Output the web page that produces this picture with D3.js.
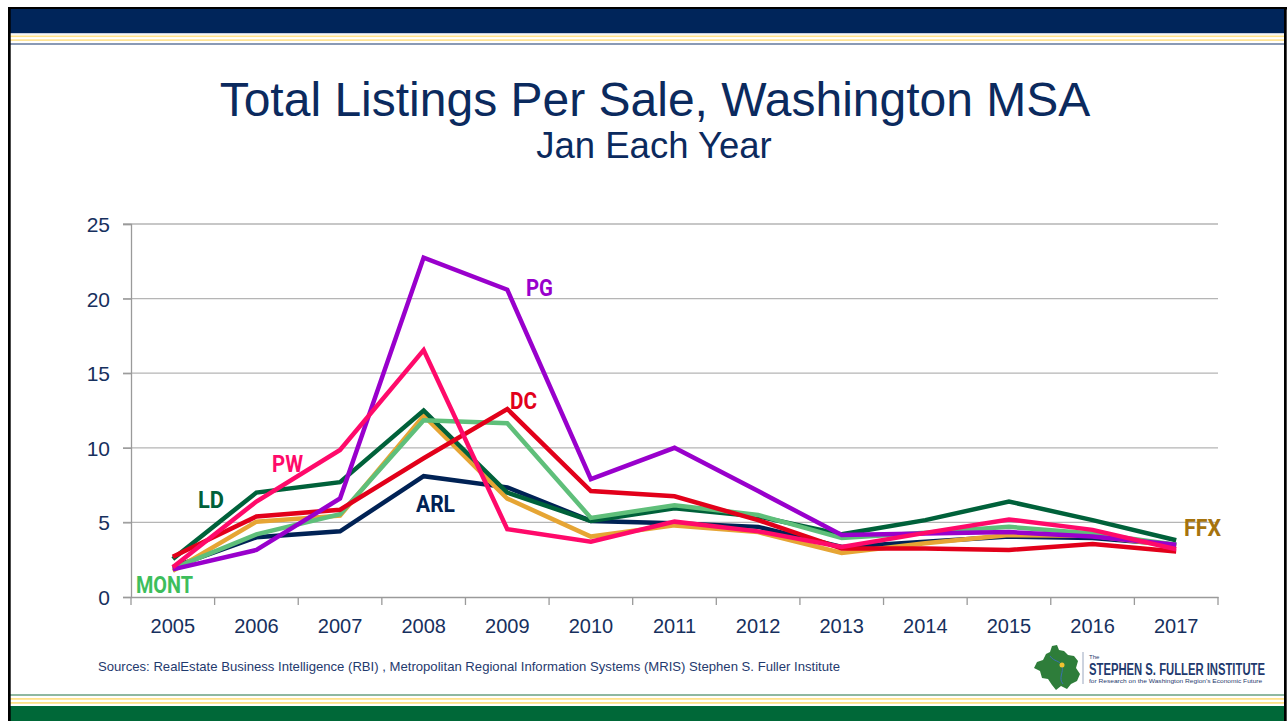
<!DOCTYPE html>
<html>
<head>
<meta charset="utf-8">
<script src="https://cdn.jsdelivr.net/npm/d3@7/dist/d3.min.js"></script>
<style>
html,body{margin:0;padding:0;background:#fff;}
svg{display:block;}
</style>
</head>
<body>
<svg id="chart" width="1288" height="721"></svg>
<script>
// ---- Data ----
const years = ["2005","2006","2007","2008","2009","2010","2011","2012","2013","2014","2015","2016","2017"];
const yTicks = [0, 5, 10, 15, 20, 25];
const ARL  = [2.0, 4.0, 4.4, 8.1, 7.35, 5.1, 4.95, 4.7, 3.35, 3.7, 4.05, 3.95, 3.5];
const FFX  = [1.75, 5.05, 5.45, 12.15, 6.6, 4.05, 4.8, 4.35, 2.95, 3.6, 4.15, 4.1, 3.4];
const LD   = [2.55, 7.0, 7.7, 12.5, 7.0, 5.1, 5.95, 5.4, 4.2, 5.15, 6.4, 5.15, 3.8];
const MONT = [1.9, 4.2, 5.55, 11.85, 11.65, 5.3, 6.15, 5.5, 3.95, 4.3, 4.7, 4.25, 3.5];
const DC   = [2.7, 5.4, 5.85, 9.3, 12.6, 7.1, 6.75, 5.15, 3.25, 3.25, 3.15, 3.55, 3.05];
const PG   = [1.85, 3.15, 6.6, 22.75, 20.6, 7.9, 10.0, 7.1, 4.15, 4.25, 4.35, 4.05, 3.5];
const PW   = [2.0, 6.4, 9.85, 16.55, 4.55, 3.7, 5.05, 4.4, 3.35, 4.3, 5.2, 4.5, 3.2];
const seriesNames = ["ARL","FFX","LD","MONT","DC","PG","PW"];
const title = "Total Listings Per Sale, Washington MSA";
const subtitle = "Jan Each Year";
const source = "Sources: RealEstate Business Intelligence (RBI) , Metropolitan Regional Information Systems (MRIS) Stephen S. Fuller Institute";

const seriesData = {ARL, FFX, LD, MONT, DC, PG, PW};
const lineColor = {ARL:"#002255", FFX:"#E6A534", LD:"#00613A", MONT:"#5FBF7A", DC:"#E2001A", PG:"#9900CC", PW:"#FF0A6A"};
const labelColor = {ARL:"#002255", FFX:"#A6730D", LD:"#00613A", MONT:"#3DBE5C", DC:"#E2001A", PG:"#9900CC", PW:"#FF0A6A"};
const labelPos = {
  PG:  {x:526, y:296, w:27},
  DC:  {x:510, y:409, w:27},
  PW:  {x:272, y:472, w:31},
  LD:  {x:198, y:508, w:26},
  ARL: {x:416, y:512, w:39},
  MONT:{x:136, y:593, w:57},
  FFX: {x:1184, y:536, w:37}
};

const svg = d3.select("#chart");
const W = 1288, H = 721;

// ---- Frame / decoration ----
svg.append("rect").attr("x",0).attr("y",0).attr("width",W).attr("height",H).attr("fill","#fff");
svg.append("rect").attr("x",8).attr("y",7).attr("width",1279).attr("height",2.5).attr("fill","#000");
svg.append("rect").attr("x",10).attr("y",9).attr("width",1275).attr("height",24).attr("fill","#00255A");
svg.append("rect").attr("x",10).attr("y",33).attr("width",1275).attr("height",1.2).attr("fill","#c8cfdc");
svg.append("rect").attr("x",10).attr("y",35.5).attr("width",1275).attr("height",1.6).attr("fill","#FFE28A");
svg.append("rect").attr("x",10).attr("y",39.3).attr("width",1275).attr("height",1.6).attr("fill","#FFE28A");
svg.append("rect").attr("x",10).attr("y",43).attr("width",1275).attr("height",2).attr("fill","#8a9ab5");
svg.append("rect").attr("x",10).attr("y",694).attr("width",1275).attr("height",2).attr("fill","#8fb8a0");
svg.append("rect").attr("x",10).attr("y",698).attr("width",1275).attr("height",1.8).attr("fill","#FFE28A");
svg.append("rect").attr("x",10).attr("y",702).attr("width",1275).attr("height",1.8).attr("fill","#FFE28A");
svg.append("rect").attr("x",10).attr("y",706).attr("width",1275).attr("height",15).attr("fill","#006838");
svg.append("rect").attr("x",8).attr("y",7).attr("width",2.7).attr("height",H-7).attr("fill","#000");
svg.append("rect").attr("x",1284).attr("y",7).attr("width",2.7).attr("height",H-7).attr("fill","#000");

// ---- Titles ----
svg.append("text").attr("x",655).attr("y",116).attr("text-anchor","middle")
  .attr("font-family","'Liberation Sans', Arial, sans-serif").attr("font-size",48)
  .attr("fill","#0B2A5E").text(title);
svg.append("text").attr("x",654).attr("y",158).attr("text-anchor","middle")
  .attr("font-family","'Liberation Sans', Arial, sans-serif").attr("font-size",36.5)
  .attr("fill","#0B2A5E").text(subtitle);

// ---- Scales ----
const x = d3.scaleBand().domain(years).range([131, 1218]);
const y = d3.scaleLinear().domain([0, 25]).range([597, 224]);

const g = svg.append("g");
g.selectAll("line.grid").data(yTicks.filter(d=>d>0)).join("line")
  .attr("x1",123).attr("x2",1218)
  .attr("y1",d=>y(d)).attr("y2",d=>y(d))
  .attr("stroke","#b5b5b5").attr("stroke-width",1.3);

const yAxis = d3.axisLeft(y).tickValues(yTicks).tickSize(8).tickPadding(13);
const ya = g.append("g").attr("transform","translate(131,0)").call(yAxis);
ya.select(".domain").attr("stroke","#9a9a9a").attr("stroke-width",1.3);
ya.selectAll(".tick line").attr("stroke","#9a9a9a").attr("stroke-width",1.3);
ya.selectAll(".tick text").attr("font-family","'Liberation Sans', Arial, sans-serif")
  .attr("font-size",21).attr("fill","#17305E").attr("dy","0.36em");

const xAxis = d3.axisBottom(x).tickSize(0).tickPadding(22);
const xa = g.append("g").attr("transform","translate(0,597)").call(xAxis);
xa.select(".domain").attr("stroke","#9a9a9a").attr("stroke-width",1.3);
xa.selectAll(".tick text").attr("font-family","'Liberation Sans', Arial, sans-serif")
  .attr("font-size",20).attr("fill","#17305E");
const bounds = years.map(d=>x(d)).concat([x(years[years.length-1]) + x.bandwidth()]);
g.selectAll("line.xb").data(bounds).join("line")
  .attr("x1",d=>d).attr("x2",d=>d).attr("y1",597).attr("y2",605)
  .attr("stroke","#9a9a9a").attr("stroke-width",1.3);

// ---- Lines ----
const line = d3.line().x((d,i)=>x(years[i]) + x.bandwidth()/2).y(d=>y(d));
seriesNames.forEach(name=>{
  g.append("path").datum(seriesData[name])
    .attr("d", line).attr("fill","none")
    .attr("stroke", lineColor[name]).attr("stroke-width",4.5)
    .attr("stroke-linejoin","miter").attr("stroke-miterlimit",4);
});

// ---- Series labels ----
seriesNames.forEach(name=>{
  const p = labelPos[name];
  g.append("text").attr("x",p.x).attr("y",p.y)
    .attr("font-family","'Liberation Sans Narrow','Roboto', Arial, sans-serif")
    .attr("font-weight","bold").attr("font-size",24)
    .attr("textLength",p.w).attr("lengthAdjust","spacingAndGlyphs")
    .attr("fill",labelColor[name]).text(name);
});

// ---- Source ----
svg.append("text").attr("x",98).attr("y",671)
  .attr("font-family","'Liberation Sans Narrow','Liberation Sans', Arial, sans-serif")
  .attr("font-size",13.5).attr("fill","#1F3A6E")
  .attr("textLength",742).attr("lengthAdjust","spacingAndGlyphs").text(source);

// ---- Logo ----
const logo = svg.append("g");
logo.append("path")
  .attr("d","M1052,646 L1057,645 L1059,650 L1064,651 L1068,655 L1074,656 L1078,661 L1076,668 L1080,674 L1077,681 L1071,684 L1067,689 L1061,686 L1056,690 L1052,685 L1048,679 L1042,678 L1040,671 L1034,668 L1037,662 L1043,660 L1046,654 L1050,652 Z")
  .attr("fill","#2E7D3A");
logo.append("path").attr("d","M1050,656 C1054,662 1060,660 1062,666 C1064,672 1058,678 1063,684")
  .attr("fill","none").attr("stroke","#3a6fb0").attr("stroke-width",1);
logo.append("circle").attr("cx",1062).attr("cy",665).attr("r",2.5).attr("fill","#F2C230");
logo.append("line").attr("x1",1083).attr("x2",1083).attr("y1",652).attr("y2",684).attr("stroke","#9aa7bf").attr("stroke-width",1);
logo.append("text").attr("x",1089).attr("y",659).attr("font-family","'Liberation Sans', Arial, sans-serif")
  .attr("font-size",6).attr("fill","#1F3A6E").text("The");
logo.append("text").attr("transform","translate(1089,675) scale(0.705,1)")
  .attr("font-family","'Liberation Sans', Arial, sans-serif")
  .attr("font-weight","bold").attr("font-size",16).attr("fill","#1F3A6E")
  .text("STEPHEN S. FULLER INSTITUTE");
logo.append("text").attr("transform","translate(1089,683) scale(1.1,1)")
  .attr("font-family","'Liberation Sans', Arial, sans-serif")
  .attr("font-size",6).attr("fill","#1F3A6E")
  .text("for Research on the Washington Region's Economic Future");
</script>
</body>
</html>
